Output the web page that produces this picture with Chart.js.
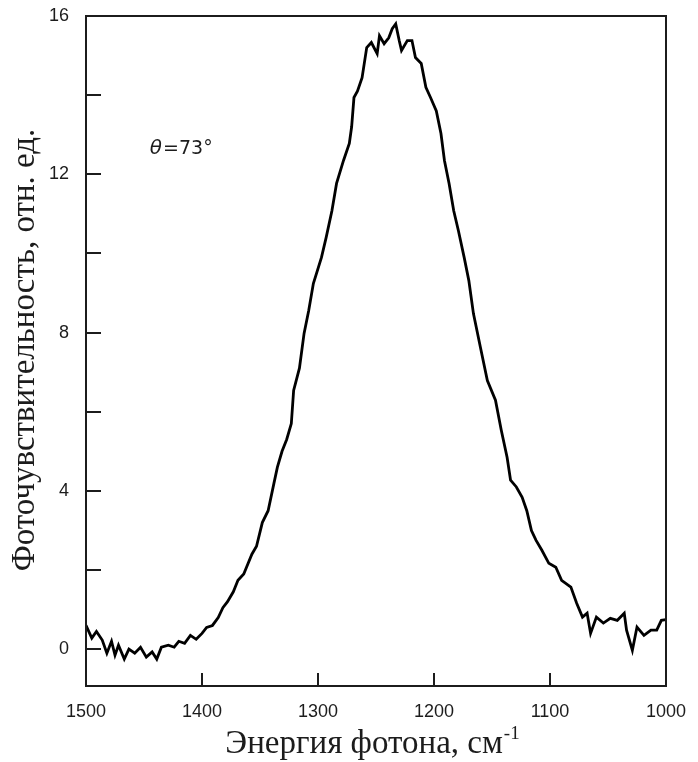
<!DOCTYPE html>
<html>
<head>
<meta charset="utf-8">
<script src="https://cdn.jsdelivr.net/npm/chart.js@4"></script>
<style>
  html, body { margin: 0; padding: 0; background: #fff; }
</style>
</head>
<body>
<canvas id="chart" width="698" height="762"></canvas>
<script>
// photon energy, cm^-1 (axis runs 1500 -> 1000)
const energy = [
  1500, 1495, 1491, 1486, 1482, 1478, 1475, 1472, 1467, 1463,
  1458, 1453, 1448, 1443, 1439, 1435, 1429, 1424, 1420, 1415,
  1410, 1405, 1400, 1396, 1391, 1386, 1382, 1378, 1373, 1369,
  1364, 1357, 1353, 1348, 1343, 1338, 1335, 1331, 1327, 1323,
  1321, 1316, 1312, 1308, 1304, 1297, 1293, 1288, 1284, 1278,
  1273, 1271, 1269, 1266, 1262, 1258, 1254, 1249, 1247, 1243,
  1239, 1236, 1233, 1230, 1228, 1223, 1219, 1216, 1211, 1207,
  1203, 1198, 1194, 1191, 1187, 1183, 1179, 1174, 1170, 1166,
  1160, 1154, 1147, 1142, 1137, 1134, 1129, 1124, 1120, 1116,
  1112, 1107, 1101, 1095, 1090, 1082, 1077, 1072, 1068, 1065,
  1060, 1054, 1048, 1042, 1036, 1034, 1029, 1025, 1019, 1013,
  1008, 1004, 1000
];
// photosensitivity, rel. units
const signal = [
  0.60, 0.28, 0.45, 0.23, -0.10, 0.20, -0.15, 0.10, -0.25, 0.00,
  -0.10, 0.05, -0.20, -0.07, -0.25, 0.05, 0.10, 0.05, 0.20, 0.15,
  0.35, 0.25, 0.40, 0.55, 0.60, 0.80, 1.05, 1.20, 1.45, 1.74,
  1.90, 2.40, 2.60, 3.20, 3.50, 4.19, 4.60, 5.00, 5.30, 5.70,
  6.54, 7.10, 7.98, 8.56, 9.24, 9.90, 10.40, 11.08, 11.77, 12.35,
  12.78, 13.20, 13.94, 14.10, 14.44, 15.20, 15.33, 15.05, 15.50, 15.30,
  15.45, 15.68, 15.80, 15.38, 15.13, 15.38, 15.38, 14.95, 14.80, 14.20,
  13.94, 13.60, 13.03, 12.35, 11.77, 11.08, 10.58, 9.90, 9.32, 8.48,
  7.63, 6.79, 6.29, 5.53, 4.85, 4.27, 4.10, 3.84, 3.50, 3.00,
  2.75, 2.50, 2.17, 2.07, 1.74, 1.57, 1.16, 0.81, 0.91, 0.40,
  0.81, 0.66, 0.78, 0.73, 0.91, 0.48, -0.03, 0.56, 0.35, 0.48,
  0.48, 0.73, 0.75
];
const xTicks = [1500, 1400, 1300, 1200, 1100, 1000];
const yTicks = [0, 4, 8, 12, 16];
const yMinor = [2, 6, 10, 14];

const xTitle = "Энергия фотона, см";
const xTitleSup = "-1";
const yTitle = "Фоточувствительность, отн. ед.";
const note = "=73°";

const ink = "#1c1c1c";

// frame, inward ticks, titles, note
const framePlugin = {
  id: "frame",
  afterDraw(chart) {
    const { ctx, chartArea: a, scales } = chart;
    ctx.save();
    ctx.strokeStyle = ink;
    ctx.lineWidth = 2;
    ctx.strokeRect(a.left, a.top, a.right - a.left, a.bottom - a.top);

    // y ticks pointing right
    [...yTicks, ...yMinor].forEach((v) => {
      if (v === 16) return;
      const py = Math.round(scales.y.getPixelForValue(v));
      ctx.beginPath();
      ctx.moveTo(a.left, py);
      ctx.lineTo(a.left + 15, py);
      ctx.stroke();
    });
    // x ticks pointing up
    xTicks.forEach((v) => {
      if (v === 1500 || v === 1000) return;
      const px = Math.round(scales.x.getPixelForValue(v));
      ctx.beginPath();
      ctx.moveTo(px, a.bottom);
      ctx.lineTo(px, a.bottom - 13);
      ctx.stroke();
    });

    // x title with superscript
    ctx.fillStyle = ink;
    ctx.textBaseline = "alphabetic";
    ctx.font = '33px "Liberation Serif", serif';
    const w1 = ctx.measureText(xTitle).width;
    ctx.font = '19px "Liberation Serif", serif';
    const w2 = ctx.measureText(xTitleSup).width;
    const x0 = 372 - (w1 + w2) / 2;
    ctx.font = '33px "Liberation Serif", serif';
    ctx.textAlign = "left";
    ctx.fillText(xTitle, x0, 753);
    ctx.font = '19px "Liberation Serif", serif';
    ctx.fillText(xTitleSup, x0 + w1 + 1, 739);

    // y title rotated
    ctx.save();
    ctx.translate(34, 350);
    ctx.rotate(-Math.PI / 2);
    ctx.font = '33px "Liberation Serif", serif';
    ctx.textAlign = "center";
    ctx.fillText(yTitle, 0, 0);
    ctx.restore();

    // angle note
    const nx = scales.x.getPixelForValue(1445);
    const ny = scales.y.getPixelForValue(12.52);
    ctx.textAlign = "left";
    ctx.font = 'italic 20px "DejaVu Sans", sans-serif';
    ctx.fillText("θ", nx, ny);
    const tw = ctx.measureText("θ").width;
    ctx.font = '19px "DejaVu Sans", sans-serif';
    ctx.fillText(note, nx + tw + 1, ny);
    ctx.restore();
  },
};

new Chart(document.getElementById("chart"), {
  type: "line",
  data: {
    datasets: [
      {
        data: energy.map((e, i) => ({ x: e, y: signal[i] })),
        borderColor: "#000",
        borderWidth: 2.8,
        pointRadius: 0,
        tension: 0,
        fill: false,
      },
    ],
  },
  options: {
    responsive: false,
    animation: false,
    layout: { padding: { top: 16, right: 32, left: 0, bottom: 0 } },
    plugins: { legend: { display: false }, tooltip: { enabled: false } },
    scales: {
      x: {
        type: "linear",
        reverse: true,
        min: 1000,
        max: 1500,
        afterFit: (s) => { s.height = 76; s.paddingLeft = 0; s.paddingRight = 0; },
        afterBuildTicks: (s) => { s.ticks = xTicks.map((v) => ({ value: v })); },
        grid: { display: false, drawTicks: false },
        border: { display: false },
        ticks: {
          color: ink,
          padding: 15,
          maxRotation: 0,
          autoSkip: false,
          callback: (v) => String(v),
          font: { family: "Liberation Sans", size: 18 },
        },
      },
      y: {
        min: -0.93,
        max: 16,
        afterFit: (s) => { s.width = 86; s.paddingTop = 0; s.paddingBottom = 0; },
        afterBuildTicks: (s) => { s.ticks = yTicks.map((v) => ({ value: v })); },
        grid: { display: false, drawTicks: false },
        border: { display: false },
        ticks: {
          color: ink,
          padding: 17,
          callback: (v) => String(v),
          font: { family: "Liberation Sans", size: 18 },
        },
      },
    },
  },
  plugins: [framePlugin],
});
</script>
</body>
</html>
